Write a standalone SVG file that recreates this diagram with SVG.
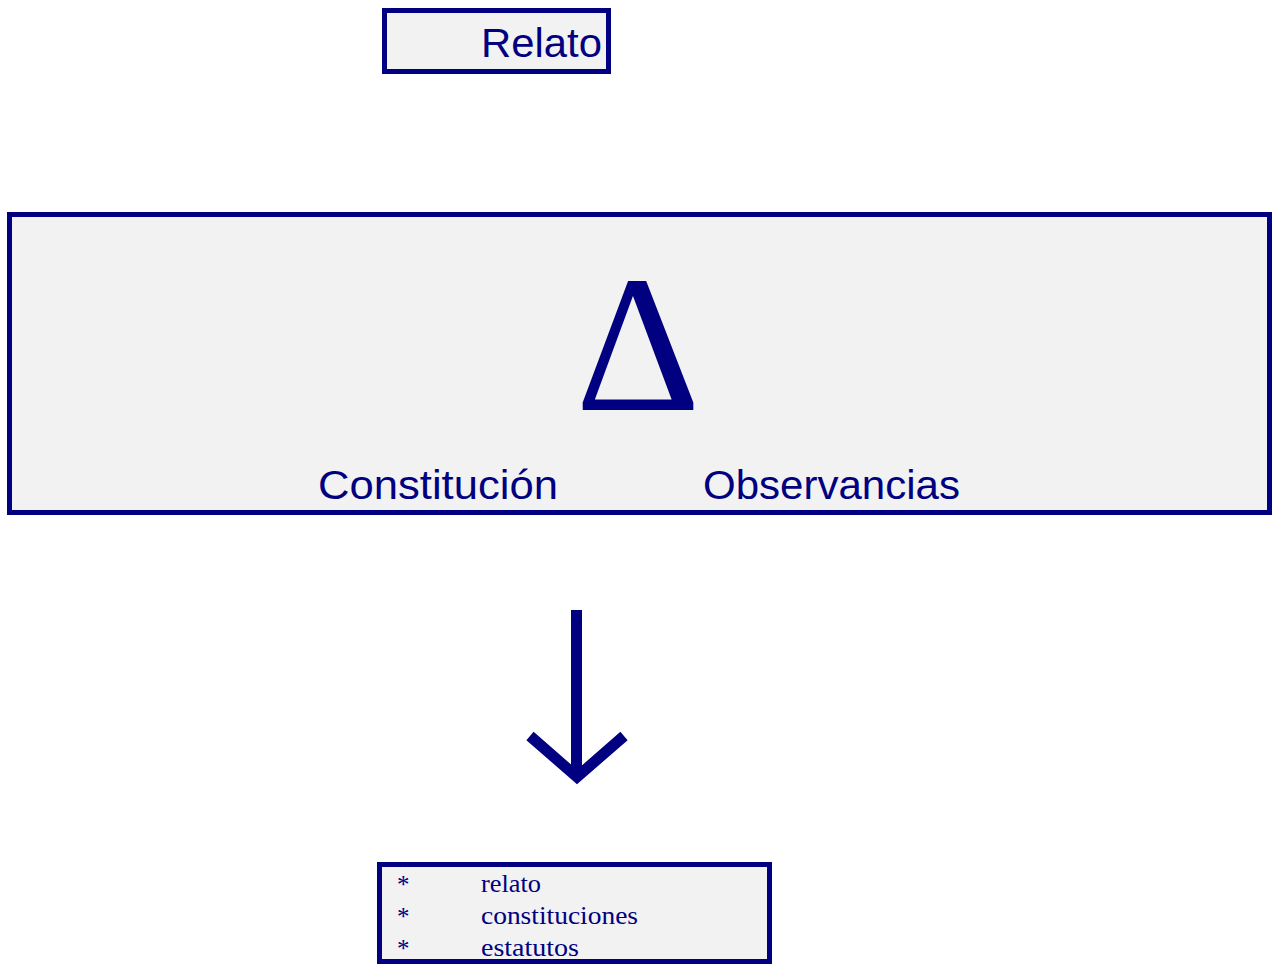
<svg xmlns="http://www.w3.org/2000/svg" width="1277" height="965" viewBox="0 0 1277 965">
<style>
.box{fill:#f2f2f2;stroke:#000080;stroke-width:5}
.sans{font-family:"Liberation Sans",Arial,sans-serif;fill:#000080}
.serif{font-family:"Liberation Serif","Times New Roman",serif;fill:#000080}
.conn{fill:none;stroke:#000080;stroke-width:11}
</style>
<rect width="1277" height="965" fill="#ffffff"/>
<g id="relato">
<rect class="box" x="384.5" y="10.5" width="224" height="61"/>
<text class="sans" x="481" y="57" font-size="41" textLength="121" lengthAdjust="spacingAndGlyphs">Relato</text>
</g>
<g id="delta-box">
<rect class="box" x="9.5" y="214.5" width="1260" height="298"/>
<text class="serif" x="638" y="410" font-size="195" text-anchor="middle">Δ</text>
<text class="sans" x="318" y="499" font-size="41" textLength="240" lengthAdjust="spacingAndGlyphs">Constitución</text>
<text class="sans" x="703" y="499" font-size="41" textLength="257" lengthAdjust="spacingAndGlyphs">Observancias</text>
</g>
<g id="connectors">
<line class="conn" x1="576.5" y1="610" x2="576.5" y2="775"/>
<polyline class="conn" stroke-width="10" points="530,736 577,777 624,736"/>
</g>
<g id="lista">
<rect class="box" x="379.5" y="864.5" width="390" height="97"/>
<g class="serif" font-size="25">
<text x="397" y="893">*</text>
<text x="397" y="925">*</text>
<text x="397" y="957">*</text>
<text x="481" y="892" textLength="60" lengthAdjust="spacingAndGlyphs">relato</text>
<text x="481" y="924" textLength="157" lengthAdjust="spacingAndGlyphs">constituciones</text>
<text x="481" y="956" textLength="98" lengthAdjust="spacingAndGlyphs">estatutos</text>
</g>
</g>
</svg>
